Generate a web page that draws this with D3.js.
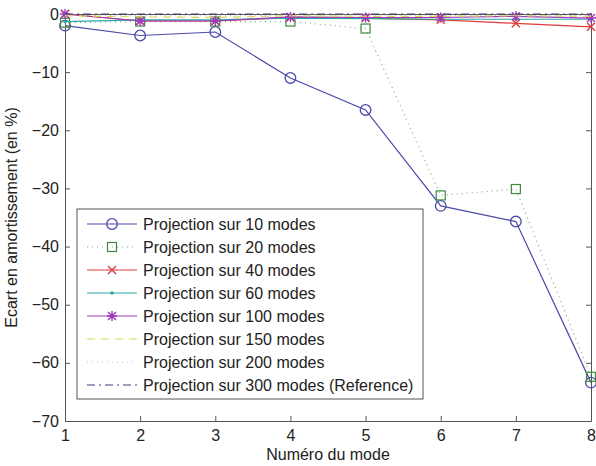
<!DOCTYPE html>
<html><head><meta charset="utf-8">
<script src="https://cdn.jsdelivr.net/npm/d3@7"></script>
<style>body{margin:0;background:#fff}svg{display:block}text{font-family:"Liberation Sans",Arial,sans-serif}</style>
</head><body><svg id="c" width="596" height="466"></svg>
<script>
const modes = [1,2,3,4,5,6,7,8];
const p10  = [-2.0,-3.7,-3.1,-11.0,-16.5,-33.0,-35.7,-63.4];
const p20  = [-1.5,-1.3,-1.3,-1.3,-2.5,-31.2,-30.1,-62.4];
const p40  = [0.0,-1.2,-1.2,-0.6,-0.7,-1.0,-1.6,-2.2];
const p60  = [-1.3,-1.0,-1.0,-0.7,-0.8,-0.9,-0.9,-0.9];
const p100 = [0.0,-1.2,-1.2,-0.5,-0.6,-0.6,-0.4,-0.7];
const p150 = [-0.3,-0.5,-0.6,-0.3,-0.4,-0.4,-0.3,-0.4];
const p200 = [-0.2,-0.3,-0.3,-0.2,-0.2,-0.3,-0.2,-0.3];
const p300 = [0,0,0,0,0,0,0,0];
const yTicks = [0,-10,-20,-30,-40,-50,-60,-70];
const labels = ["Projection sur 10 modes","Projection sur 20 modes","Projection sur 40 modes","Projection sur 60 modes","Projection sur 100 modes","Projection sur 150 modes","Projection sur 200 modes","Projection sur 300 modes (Reference)"];

const series = [
 {v:p10, c:"#4a4aa8", dash:null, m:"circle"},
 {v:p20, c:"#7fb07f", mc:"#3d8a3d", dash:"1,4", m:"square"},
 {v:p40, c:"#e03a3a", dash:null, m:"x"},
 {v:p60, c:"#2aa8a8", dash:null, m:"dot"},
 {v:p100, c:"#a03ab8", dash:null, m:"star"},
 {v:p150, c:"#d8d850", dash:"8,6", m:null},
 {v:p200, c:"#d8b0c8", dash:"1,4", m:null},
 {v:p300, c:"#40407a", dash:"8,4,2,4", m:null}
];

const L=65, R=591, T=14, B=421, FS=16;
const x = d3.scaleLinear().domain([1,8]).range([L,R]);
const y = d3.scaleLinear().domain([-70,0]).range([B,T]);
const svg = d3.select("#c");

const gx = svg.append("g").attr("transform",`translate(0,${B})`)
  .call(d3.axisBottom(x).tickValues(modes).tickFormat(d3.format("d")).tickSizeInner(-5).tickSizeOuter(0).tickPadding(9));
const gxt = svg.append("g").attr("transform",`translate(0,${T})`)
  .call(d3.axisTop(x).tickValues(modes).tickFormat("").tickSizeInner(-5).tickSizeOuter(0));
const gy = svg.append("g").attr("transform",`translate(${L},0)`)
  .call(d3.axisLeft(y).tickValues(yTicks).tickFormat(d=>d<0?"\u2212"+Math.abs(d):d).tickSizeInner(-5).tickSizeOuter(0).tickPadding(6));
const gyr = svg.append("g").attr("transform",`translate(${R},0)`)
  .call(d3.axisRight(y).tickValues(yTicks).tickFormat("").tickSizeInner(-5).tickSizeOuter(0));
[gx,gxt,gy,gyr].forEach(g=>{g.selectAll("path,line").attr("stroke","#555");g.selectAll("text").attr("font-size",FS).attr("fill","#222");});

const line = d3.line().x((d,i)=>x(modes[i])).y(d=>y(d));

function marker(g, type, cx, cy, col){
  if(type==="circle") g.append("circle").attr("cx",cx).attr("cy",cy).attr("r",5.3).attr("fill","none").attr("stroke",col).attr("stroke-width",1.3);
  else if(type==="square") g.append("rect").attr("x",cx-4.5).attr("y",cy-4.5).attr("width",9).attr("height",9).attr("fill","none").attr("stroke",col).attr("stroke-width",1.2);
  else if(type==="x") g.append("path").attr("d",`M${cx-4},${cy-4}L${cx+4},${cy+4}M${cx-4},${cy+4}L${cx+4},${cy-4}`).attr("stroke",col).attr("stroke-width",1.4);
  else if(type==="dot") g.append("circle").attr("cx",cx).attr("cy",cy).attr("r",1.8).attr("fill",col);
  else if(type==="star") g.append("path").attr("d",`M${cx-5},${cy}L${cx+5},${cy}M${cx},${cy-5}L${cx},${cy+5}M${cx-4},${cy-4}L${cx+4},${cy+4}M${cx-4},${cy+4}L${cx+4},${cy-4}`).attr("stroke",col).attr("stroke-width",1.4);
}

series.forEach(s=>{
  svg.append("path").attr("d",line(s.v)).attr("fill","none").attr("stroke",s.c).attr("stroke-width",1.2)
    .attr("stroke-dasharray",s.dash);
  if(s.m){ const g=svg.append("g"); s.v.forEach((d,i)=>marker(g,s.m,x(modes[i]),y(d),s.mc||s.c)); }
});

const lg = svg.append("g");
lg.append("rect").attr("x",77).attr("y",209).attr("width",346).attr("height",190).attr("fill","#fff").attr("stroke","#555");
series.forEach((s,i)=>{
  const yy = 224 + i*23;
  lg.append("line").attr("x1",87).attr("x2",137).attr("y1",yy).attr("y2",yy).attr("stroke",s.c).attr("stroke-width",1.2).attr("stroke-dasharray",s.dash);
  if(s.m) marker(lg,s.m,112,yy,s.mc||s.c);
  lg.append("text").attr("x",143).attr("y",yy+6).attr("font-size",FS).attr("fill","#222").text(labels[i]);
});

svg.append("text").attr("x",(L+R)/2).attr("y",460).attr("text-anchor","middle").attr("font-size",FS).attr("fill","#222").text("Numéro du mode");
svg.append("text").attr("transform",`translate(17,${(T+B)/2}) rotate(-90)`).attr("text-anchor","middle").attr("font-size",FS).attr("fill","#222").text("Ecart en amortissement (en %)");
</script></body></html>
